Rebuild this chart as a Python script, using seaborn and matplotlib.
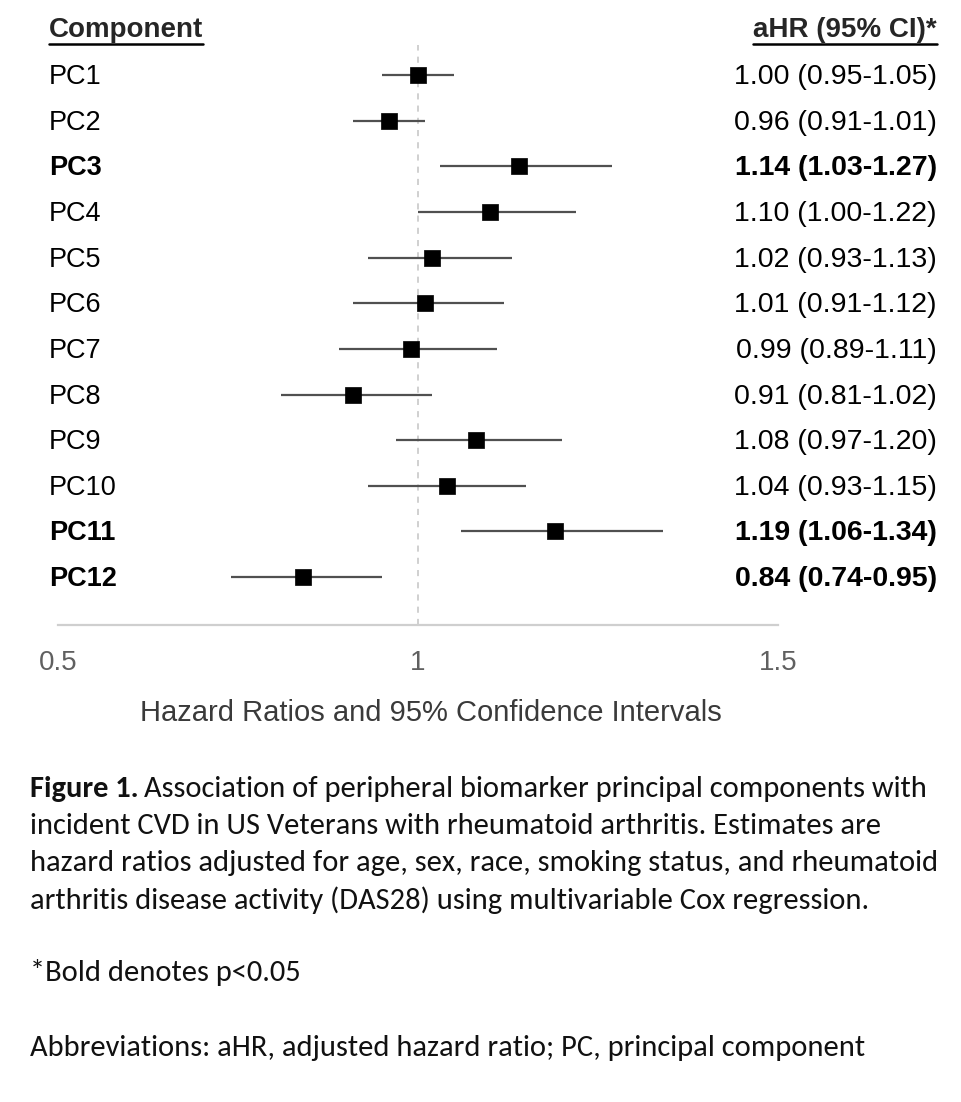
import matplotlib
matplotlib.use("Agg")
import matplotlib.pyplot as plt
import pandas as pd
import seaborn as sns
from matplotlib import font_manager
from matplotlib.lines import Line2D
from matplotlib.transforms import blended_transform_factory, offset_copy

# ---- data ----
components = ["PC1", "PC2", "PC3", "PC4", "PC5", "PC6",
              "PC7", "PC8", "PC9", "PC10", "PC11", "PC12"]
hr = [1.00, 0.96, 1.14, 1.10, 1.02, 1.01, 0.99, 0.91, 1.08, 1.04, 1.19, 0.84]
ci_low = [0.95, 0.91, 1.03, 1.00, 0.93, 0.91, 0.89, 0.81, 0.97, 0.93, 1.06, 0.74]
ci_high = [1.05, 1.01, 1.27, 1.22, 1.13, 1.12, 1.11, 1.02, 1.20, 1.15, 1.34, 0.95]
significant = [False, False, True, False, False, False,
               False, False, False, False, True, True]
x_ticks = [0.5, 1.0, 1.5]
x_tick_labels = ["0.5", "1", "1.5"]

caption_lines = [
    "incident CVD in US Veterans with rheumatoid arthritis. Estimates are",
    "hazard ratios adjusted for age, sex, race, smoking status, and rheumatoid",
    "arthritis disease activity (DAS28) using multivariable Cox regression.",
]


def pick_font(names):
    installed = {f.name for f in font_manager.fontManager.ttflist}
    for n in names:
        if n in installed:
            return n
    return "DejaVu Sans"


sns.set_theme(style="white")
main_font = pick_font(["Liberation Sans", "Arial", "DejaVu Sans"])
caption_font = pick_font(["Carlito", "Lato", "Open Sans"])
plt.rcParams["font.family"] = [main_font, "DejaVu Sans"]

W, H = 962, 1102
fig = plt.figure(figsize=(W / 100, H / 100), dpi=100)
fig.patch.set_facecolor("white")

df = pd.DataFrame({"component": components, "hr": hr,
                   "low": ci_low, "high": ci_high, "sig": significant})
df["row"] = range(len(df))

# axes: x 0.5..1.5 spans pixels 58..778, top 45, bottom (axis line) 625
ax = fig.add_axes([58 / W, 1 - 625 / H, 720 / W, 580 / H])
ax.axvline(1.0, color="#c4c4c4", lw=1.1, ls=(0, (4, 4)), zorder=1)
ax.hlines(df["row"], df["low"], df["high"], color="#505050", lw=1.6, zorder=2)
sns.scatterplot(data=df, x="hr", y="row", marker="s", s=125, color="black",
                edgecolor="black", linewidth=0.5, legend=False, ax=ax, zorder=3)

ax.set_xlim(0.5, 1.5)
ax.set_ylim(len(df) - 1 + 1.05, -0.66)
ax.set_yticks([])
ax.set_ylabel("")
ax.set_xticks(x_ticks, x_tick_labels)
ax.tick_params(axis="x", length=0, pad=18, labelsize=20, labelcolor="#606060")
for side in ["top", "left", "right"]:
    ax.spines[side].set_visible(False)
ax.spines["bottom"].set_color("#cfcfcf")
ax.spines["bottom"].set_linewidth(1.6)
ax.set_facecolor("none")

ax.set_xlabel("Hazard Ratios and 95% Confidence Intervals", fontsize=21,
              color="#3a3a3a", va="center")
ax.xaxis.set_label_coords((431 - 58) / 720, -(713 - 625) / 580)

# row labels and estimates (nudged 2 px down to sit on the marker centres)
trans = offset_copy(blended_transform_factory(fig.transFigure, ax.transData),
                    fig=fig, y=-2, units="dots")
for _, r in df.iterrows():
    weight = "bold" if r["sig"] else "normal"
    ax.text(49 / W, r["row"], r["component"], transform=trans, ha="left",
            va="center", fontsize=19.5, fontweight=weight, color="black")
    ax.text(937 / W, r["row"],
            f"{r['hr']:.2f} ({r['low']:.2f}-{r['high']:.2f})",
            transform=trans, ha="right", va="center", fontsize=20.5,
            fontweight=weight, color="black")

# headers with underline
h1 = fig.text(49 / W, 1 - 30 / H, "Component", ha="left", va="center",
              fontsize=20, fontweight="bold")
h2 = fig.text(937 / W, 1 - 30 / H, "aHR (95% CI)*", ha="right", va="center",
              fontsize=20, fontweight="bold")

# caption
cap_kw = dict(family=caption_font, fontsize=22, color="#111111", va="center")
fig1 = fig.text(30 / W, 1 - 789 / H, "Figure 1.", fontweight="bold", **cap_kw)

fig.canvas.draw()
renderer = fig.canvas.get_renderer()
inv = fig.transFigure.inverted()
for h in (h1, h2):
    bb = h.get_window_extent(renderer)
    (x0, y0), (x1, _) = inv.transform([[bb.x0, bb.y0], [bb.x1, bb.y1]])
    fig.add_artist(Line2D([x0, x1], [y0 - 1 / H, y0 - 1 / H],
                          transform=fig.transFigure, color="black", lw=1.8))

bb = fig1.get_window_extent(renderer)
fig.text(bb.x1 / W + 5 / W, 1 - 789 / H,
         "Association of peripheral biomarker principal components with", **cap_kw)
for i, line in enumerate(caption_lines):
    fig.text(30 / W, 1 - (826 + 37 * i) / H, line, **cap_kw)
fig.text(30 / W, 1 - 972 / H, "*Bold denotes p<0.05", **cap_kw)
fig.text(30 / W, 1 - 1048 / H,
         "Abbreviations: aHR, adjusted hazard ratio; PC, principal component", **cap_kw)

fig.savefig("out.png", dpi=100, facecolor="white")
